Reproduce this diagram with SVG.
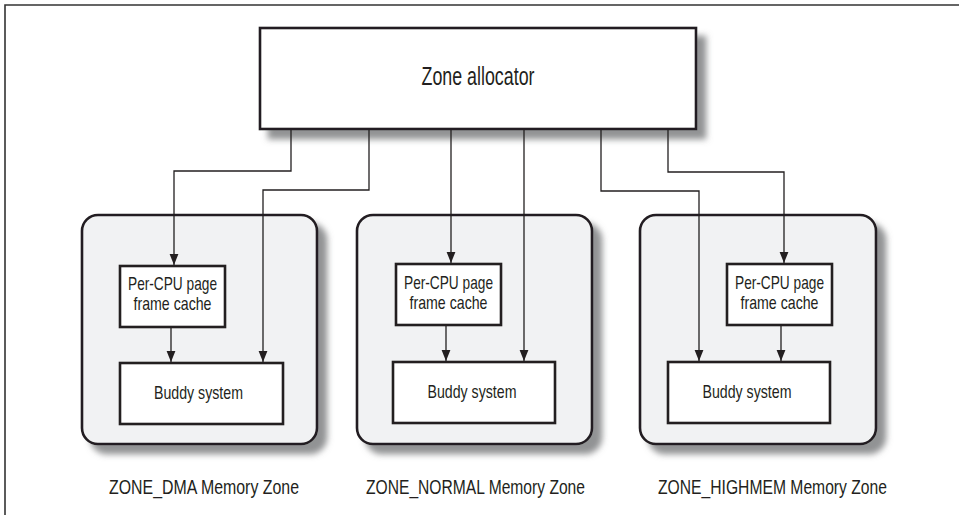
<svg xmlns="http://www.w3.org/2000/svg" width="959" height="515" viewBox="0 0 959 515">
<style>
.txt{font-family:"Liberation Sans",Arial,sans-serif;fill:#231f20;}
.box{fill:#ffffff;stroke:#231f20;stroke-width:2.6;}
.zone{fill:#f1f2f3;stroke:#231f20;stroke-width:2.6;}
.conn{fill:none;stroke:#231f20;stroke-width:1.3;marker-end:url(#arr);}
</style>
<defs>
<filter id="sh" x="-10%" y="-10%" width="130%" height="130%">
<feDropShadow dx="9" dy="9" stdDeviation="3" flood-color="#6d6e70" flood-opacity="0.75"/>
</filter>
<marker id="arr" viewBox="0 0 10 10" refX="10" refY="5" markerWidth="11" markerHeight="11" orient="auto" markerUnits="userSpaceOnUse">
<path d="M0,1 L10,5 L0,9 z" fill="#231f20"/>
</marker>
</defs>
<rect width="959" height="515" fill="#ffffff"/>
<path d="M5,515 V5 H959" fill="none" stroke="#333333" stroke-width="1.6"/>

<g id="zone-allocator">
<rect class="box" x="260" y="28" width="436" height="101" filter="url(#sh)"/>
<text class="txt" x="478" y="85" font-size="25" text-anchor="middle" textLength="113" lengthAdjust="spacingAndGlyphs">Zone allocator</text>
</g>

<g id="zone-dma">
<rect class="zone" x="82" y="215" width="235" height="229" rx="16" filter="url(#sh)"/>
<text class="txt" x="109" y="494" font-size="20" textLength="190" lengthAdjust="spacingAndGlyphs">ZONE_DMA Memory Zone</text>
</g>
<g id="zone-normal">
<rect class="zone" x="357" y="215" width="235" height="229" rx="16" filter="url(#sh)"/>
<text class="txt" x="366" y="494" font-size="20" textLength="219" lengthAdjust="spacingAndGlyphs">ZONE_NORMAL Memory Zone</text>
</g>
<g id="zone-highmem">
<rect class="zone" x="640" y="215" width="236" height="229" rx="16" filter="url(#sh)"/>
<text class="txt" x="658" y="494" font-size="20" textLength="229" lengthAdjust="spacingAndGlyphs">ZONE_HIGHMEM Memory Zone</text>
</g>

<g id="pcp-dma">
<rect class="box" x="120" y="266" width="105" height="61"/>
<text class="txt" x="172.5" y="290" font-size="19" text-anchor="middle" textLength="89" lengthAdjust="spacingAndGlyphs">Per-CPU page</text>
<text class="txt" x="172.5" y="310" font-size="19" text-anchor="middle" textLength="78" lengthAdjust="spacingAndGlyphs">frame cache</text>
</g>
<g id="buddy-dma">
<rect class="box" x="120" y="363" width="163" height="61"/>
<text class="txt" x="198.5" y="399" font-size="19" text-anchor="middle" textLength="89" lengthAdjust="spacingAndGlyphs">Buddy system</text>
</g>

<g id="pcp-normal">
<rect class="box" x="396" y="264" width="105" height="61"/>
<text class="txt" x="448.5" y="289" font-size="19" text-anchor="middle" textLength="89" lengthAdjust="spacingAndGlyphs">Per-CPU page</text>
<text class="txt" x="448.5" y="309" font-size="19" text-anchor="middle" textLength="78" lengthAdjust="spacingAndGlyphs">frame cache</text>
</g>
<g id="buddy-normal">
<rect class="box" x="393" y="362" width="162" height="61"/>
<text class="txt" x="472" y="398" font-size="19" text-anchor="middle" textLength="89" lengthAdjust="spacingAndGlyphs">Buddy system</text>
</g>

<g id="pcp-highmem">
<rect class="box" x="727" y="264" width="105" height="61"/>
<text class="txt" x="779.5" y="289" font-size="19" text-anchor="middle" textLength="89" lengthAdjust="spacingAndGlyphs">Per-CPU page</text>
<text class="txt" x="779.5" y="309" font-size="19" text-anchor="middle" textLength="78" lengthAdjust="spacingAndGlyphs">frame cache</text>
</g>
<g id="buddy-highmem">
<rect class="box" x="668" y="362" width="162" height="61"/>
<text class="txt" x="747" y="398" font-size="19" text-anchor="middle" textLength="89" lengthAdjust="spacingAndGlyphs">Buddy system</text>
</g>

<g id="connectors">
<path class="conn" d="M291,130 V171 H174 V265"/>
<path class="conn" d="M369,130 V190 H263 V362"/>
<path class="conn" d="M451,130 V263"/>
<path class="conn" d="M524,130 V361"/>
<path class="conn" d="M601,130 V191 H699 V361"/>
<path class="conn" d="M668,130 V172 H784 V263"/>
<path class="conn" d="M171,328 V362"/>
<path class="conn" d="M446,326 V361"/>
<path class="conn" d="M781,326 V361"/>
</g>
</svg>
